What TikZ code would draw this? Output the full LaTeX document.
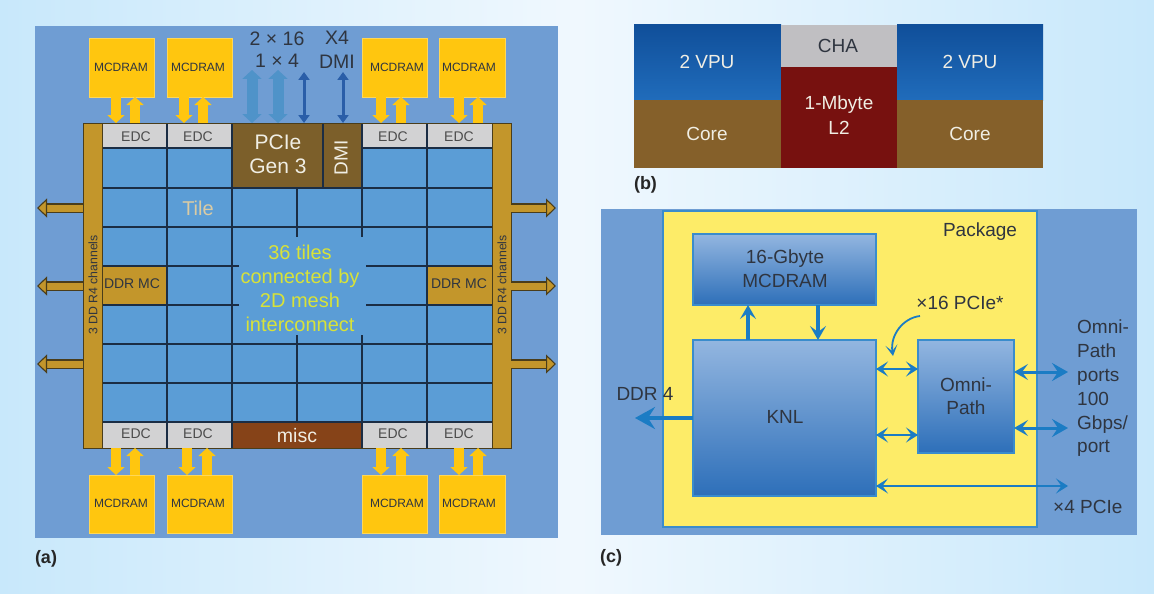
\documentclass[tikz,border=0pt]{standalone}
\usepackage{fontspec}
\setmainfont{Liberation Sans}
\usetikzlibrary{arrows.meta}
\definecolor{panelblue}{HTML}{6F9DD3}
\definecolor{tileblue}{HTML}{5B9DD6}
\definecolor{gridline}{HTML}{1B2D44}
\definecolor{goldbar}{HTML}{C3962B}
\definecolor{goldedge}{HTML}{4A3D1A}
\definecolor{pciebrown}{HTML}{7C5F2A}
\definecolor{miscbrown}{HTML}{864318}
\definecolor{edcgray}{HTML}{D2D2D3}
\definecolor{mcyellow}{HTML}{FFC60F}
\definecolor{meshtext}{HTML}{D8E238}
\definecolor{tiletext}{HTML}{DACBA4}
\definecolor{inktext}{HTML}{2F3540}
\definecolor{softwhite}{HTML}{F0EEE4}
\definecolor{arrowlight}{HTML}{4F93C9}
\definecolor{arrowdark}{HTML}{2A5EA8}
\definecolor{cblue}{HTML}{1B7CC4}
\definecolor{pkgyellow}{HTML}{FDEC68}
\definecolor{boxedge}{HTML}{3A8CCC}
\definecolor{HTop}{HTML}{93B6E0}
\definecolor{HMid}{HTML}{6F98D2}
\definecolor{HBot}{HTML}{2D6FB9}
\definecolor{bgedge}{HTML}{C8E8FB}
\definecolor{bgmid}{HTML}{F0F8FE}
\definecolor{vputop}{HTML}{104F9A}
\definecolor{vpubot}{HTML}{206CBB}
\definecolor{corebrown}{HTML}{85602A}
\definecolor{ltwored}{HTML}{77110F}
\definecolor{chagray}{HTML}{C0BFC2}
\tikzset{
  x=1pt,y=-1pt,
  sz/.style={font=\fontsize{#1}{#1}\selectfont},
  ml/.style={align=center,font=\fontsize{#1}{24}\selectfont},
  lbl/.style={inner sep=0pt,text=inktext},
  plain/.style={inner sep=0pt,outer sep=0pt},
  edcbox/.style={fill=edcgray},
  mcbox/.style={fill=mcyellow,draw=mcyellow!70!white,line width=0.8pt},
  ybarrow/.style={line width=9.5pt,mcyellow,-{Triangle[width=17pt,length=8pt]}},
  wideio/.style={line width=11pt,arrowlight,{Triangle[width=19pt,length=9pt]}-{Triangle[width=19pt,length=9pt]}},
  thinio/.style={line width=3pt,arrowdark,{Triangle[width=11pt,length=8pt]}-{Triangle[width=11pt,length=8pt]}},
  ddrout/.style={double=goldbar,draw=goldedge,line width=1.1pt,double distance=7pt,
     -{Triangle[width=19pt,length=10pt,fill=goldbar,color=goldedge,line width=1.1pt]}},
  grid/.style={gridline,line width=1.3pt},
  knlbox/.style={draw=boxedge,line width=1.5pt,top color=HTop,middle color=HMid,bottom color=HBot},
  cthin/.style={cblue,line width=2.5pt,{Stealth[length=12pt,width=15pt,inset=5.5pt]}-{Stealth[length=12pt,width=15pt,inset=5.5pt]}},
  cone/.style={cblue,line width=3.2pt,-{Stealth[length=14pt,width=16pt,inset=6pt]}},
  cport/.style={cblue,line width=3pt,{Stealth[length=14pt,width=16pt,inset=6pt]}-{Stealth[length=16pt,width=18pt,inset=6pt]}}
}
% #1 name, #2 x1, #3 y1, #4 x2, #5 y2, #6 style, #7 text
\newcommand\bx[7]{\node[plain,minimum width={(#4-#2)*1pt},minimum height={(#5-#3)*1pt},#6] (#1) at ({(#2+#4)/2},{(#3+#5)/2}) {#7};}
\begin{document}
\begin{tikzpicture}
\useasboundingbox (0,0) rectangle (1154,594);
\shade[left color=bgedge,right color=bgedge,middle color=bgmid] (0,0) rectangle (1154,594);

%%% panel a
\bx{pa}{35}{26}{558}{538}{fill=panelblue}{}
\bx{tiles}{102}{148}{492}{422}{fill=tileblue}{}
\bx{barL}{83}{123}{102}{448}{fill=goldbar}{}
\bx{barR}{492}{123}{511}{448}{fill=goldbar}{}
\bx{ddrL}{102}{266}{167}{305}{fill=goldbar}{}
\bx{ddrR}{427}{266}{492}{305}{fill=goldbar}{}
\bx{pcie}{232}{123}{323}{188}{fill=pciebrown}{}
\bx{dmi}{323}{123}{362}{188}{fill=pciebrown}{}
\bx{misc}{232}{422}{362}{448}{fill=miscbrown}{}
\bx{eA}{102}{123}{167}{148}{edcbox}{}
\bx{eB}{167}{123}{232}{148}{edcbox}{}
\bx{eC}{362}{123}{427}{148}{edcbox}{}
\bx{eD}{427}{123}{492}{148}{edcbox}{}
\bx{eE}{102}{422}{167}{448}{edcbox}{}
\bx{eF}{167}{422}{232}{448}{edcbox}{}
\bx{eG}{362}{422}{427}{448}{edcbox}{}
\bx{eH}{427}{422}{492}{448}{edcbox}{}
% mesh
\foreach \yy in {188,227,344,383,422} \draw[grid] (102,\yy) -- (492,\yy);
\foreach \yy in {266,305} {\draw[grid] (102,\yy) -- (239,\yy); \draw[grid] (366,\yy) -- (492,\yy);}
\draw[grid] (102,148) -- (232,148) (362,148) -- (492,148);
\foreach \xx in {167,427} \draw[grid] (\xx,123) -- (\xx,448);
\draw[grid] (232,123) -- (232,448);
\draw[grid] (362,123) -- (362,237) (362,335) -- (362,448);
\draw[grid] (297,188) -- (297,237) (297,335) -- (297,422);
\draw[grid] (323,123) -- (323,188);
\draw[goldedge,line width=1pt] (102,123) -- (102,448) (492,123) -- (492,448);
\draw[goldedge,line width=1pt] (83,123) rectangle (511,448);

% MCDRAM
\bx{mA}{89}{38}{154}{97}{mcbox}{}
\bx{mB}{167}{38}{232}{97}{mcbox}{}
\bx{mC}{362}{38}{427}{97}{mcbox}{}
\bx{mD}{439}{38}{505}{97}{mcbox}{}
\bx{mE}{89}{475}{154}{533}{mcbox}{}
\bx{mF}{167}{475}{232}{533}{mcbox}{}
\bx{mG}{362}{475}{427}{533}{mcbox}{}
\bx{mH}{439}{475}{505}{533}{mcbox}{}
\foreach \nm/\xx/\yy in {tA/121/67,tB/198/67,tC/397/67,tD/469/67,tE/121/503,tF/198/503,tG/397/503,tH/469/503}
  \node[lbl,sz=12] (\nm) at (\xx,\yy) {MCDRAM};
\foreach \nm/\xx/\yy in {uA/136/137,uB/198/137,uC/393/137,uD/459/137,uE/136/434,uF/198/434,uG/393/434,uH/459/434}
  \node[lbl,sz=14,text=black!70] (\nm) at (\xx,\yy) {EDC};

% yellow arrows
\draw[ybarrow] (116,0 |- mA.south) -- (116,0 |- eA.north);
\draw[ybarrow] (135,0 |- eA.north) -- (135,0 |- mA.south);
\draw[ybarrow] (184,0 |- mB.south) -- (184,0 |- eB.north);
\draw[ybarrow] (203,0 |- eB.north) -- (203,0 |- mB.south);
\draw[ybarrow] (381,0 |- mC.south) -- (381,0 |- eC.north);
\draw[ybarrow] (401,0 |- eC.north) -- (401,0 |- mC.south);
\draw[ybarrow] (459,0 |- mD.south) -- (459,0 |- eD.north);
\draw[ybarrow] (478,0 |- eD.north) -- (478,0 |- mD.south);
\draw[ybarrow] (116,0 |- eE.south) -- (116,0 |- mE.north);
\draw[ybarrow] (135,0 |- mE.north) -- (135,0 |- eE.south);
\draw[ybarrow] (187,0 |- eF.south) -- (187,0 |- mF.north);
\draw[ybarrow] (207,0 |- mF.north) -- (207,0 |- eF.south);
\draw[ybarrow] (381,0 |- eG.south) -- (381,0 |- mG.north);
\draw[ybarrow] (401,0 |- mG.north) -- (401,0 |- eG.south);
\draw[ybarrow] (459,0 |- eH.south) -- (459,0 |- mH.north);
\draw[ybarrow] (478,0 |- mH.north) -- (478,0 |- eH.south);

% pcie labels and arrows
\node[lbl,align=center,font=\fontsize{19.5}{21.5}\selectfont] (lp) at (277,49.5) {2 × 16\\1 × 4};
\node[lbl,align=center,font=\fontsize{19.5}{24}\selectfont] (lx) at (337,50) {X4\\DMI};
\coordinate (ioA) at (252,70);
\coordinate (ioB) at (278,70);
\coordinate (ioC) at (304,72);
\coordinate (ioD) at (343,72);
\draw[wideio] (ioA) -- (ioA |- pcie.north);
\draw[wideio] (ioB) -- (ioB |- pcie.north);
\draw[thinio] (ioC) -- (ioC |- pcie.north);
\draw[thinio] (ioD) -- (ioD |- dmi.north);

% chip texts
\node[plain,align=center,text=softwhite,font=\fontsize{21}{24}\selectfont] (tp) at (278,154) {PCIe\\Gen 3};
\node[plain,rotate=90,text=softwhite,sz=19] (td) at (341,158) {DMI};
\node[plain,text=softwhite,sz=19.5] (tm) at (297,436) {misc};
\node[plain,text=tiletext,sz=20] (tt) at (198,208) {Tile};
\node[plain,text=meshtext,ml=20] (tq) at (300,288) {36 tiles\\connected by\\2D mesh\\interconnect};
\node[lbl,sz=14] (dl) at (132,284) {DDR MC};
\node[lbl,sz=14] (dr) at (459,284) {DDR MC};
\node[lbl,rotate=90,sz=12.3] (cl) at (93,285) {3 DD R4 channels};
\node[lbl,rotate=90,sz=12.3] (cr) at (502,285) {3 DD R4 channels};

% DDR channel arrows
\foreach \yy/\nm in {208/a,286/b,364/c} {
  \coordinate (ol\nm) at (37,\yy);
  \coordinate (or\nm) at (556,\yy);
  \draw[ddrout] (barL.west |- ol\nm) -- (ol\nm);
  \draw[ddrout] (barR.east |- or\nm) -- (or\nm);
}

%%% panel b
\bx{vL}{634}{25}{781}{100}{top color=vputop,bottom color=vpubot}{}
\bx{vR}{897}{25}{1043}{100}{top color=vputop,bottom color=vpubot}{}
\bx{coL}{634}{100}{781}{168}{fill=corebrown}{}
\bx{coR}{897}{100}{1043}{168}{fill=corebrown}{}
\bx{cha}{781}{25}{897}{67}{fill=chagray}{}
\bx{ltwo}{781}{67}{897}{168}{fill=ltwored}{}
\node[plain,text=softwhite,sz=19] (vtA) at (707,62) {2 VPU};
\node[plain,text=softwhite,sz=19] (vtB) at (970,62) {2 VPU};
\node[plain,text=softwhite,sz=19] (ctA) at (707,134) {Core};
\node[plain,text=softwhite,sz=19] (ctB) at (970,134) {Core};
\node[lbl,sz=19] (chat) at (838,46) {CHA};
\node[plain,text=softwhite,align=center,font=\fontsize{19}{25}\selectfont] (ltwot) at (839,115.5) {1-Mbyte\\L2};

%%% panel c
\bx{pc}{601}{209}{1137}{535}{fill=panelblue}{}
\bx{pkg}{663}{211}{1037}{527}{fill=pkgyellow,draw=boxedge,line width=2pt}{}
\bx{hbm}{693}{234}{876}{305}{knlbox}{}
\bx{knl}{693}{340}{876}{496}{knlbox}{}
\bx{opa}{918}{340}{1014}{453}{knlbox}{}
\node[lbl,align=center,font=\fontsize{19}{24}\selectfont] (hbmt) at (785,269) {16-Gbyte\\MCDRAM};
\node[lbl,sz=19] (knlt) at (785,417) {KNL};
\node[lbl,align=center,font=\fontsize{19}{23}\selectfont] (opat) at (966,396.5) {Omni-\\Path};
\node[lbl,sz=19] (pkgt) at (980,232) {Package};
\node[lbl,sz=19] (pxs) at (960,303) {×16 PCIe*};
\node[lbl,sz=19] (ddrt) at (645,394) {DDR 4};
\node[lbl,align=left,anchor=north west,font=\fontsize{19}{23.8}\selectfont] (port) at (1077,320) {Omni-\\Path\\ports\\100\\Gbps/\\port};
\node[lbl,sz=19,anchor=west] (pxf) at (1053,507) {×4 PCIe};

\coordinate (ddrend) at (635,418);
\coordinate (pA) at (1068,372);
\coordinate (pB) at (1068,428);
\coordinate (pC) at (1068,486);
\coordinate (bendA) at (920,316);
\coordinate (bendB) at (893,356);
\draw[cone] (748,0 |- knl.north) -- (748,0 |- hbm.south);
\draw[cone] (818,0 |- hbm.south) -- (818,0 |- knl.north);
\draw[cblue,line width=4.5pt,-{Stealth[length=20pt,width=22pt,inset=7pt]}] (knl.west |- ddrend) -- (ddrend);
\draw[cthin] (knl.east |- 0,369) -- (opa.west |- 0,369);
\draw[cthin] (knl.east |- 0,435) -- (opa.west |- 0,435);
\draw[cport] (opa.east |- pA) -- (pA);
\draw[cport] (opa.east |- pB) -- (pB);
\draw[cthin] (knl.east |- pC) -- (pC);
\draw[cblue,line width=1.8pt,-{Stealth[length=11pt,width=12pt,inset=6pt]}] (bendA) .. controls (903,318) and (890,335) .. (bendB);

%%% captions
\node[plain,anchor=west,text=black!85,font=\bfseries\fontsize{18}{18}\selectfont] (capa) at (35,559) {(a)};
\node[plain,anchor=west,text=black!85,font=\bfseries\fontsize{18}{18}\selectfont] (capb) at (634,185) {(b)};
\node[plain,anchor=west,text=black!85,font=\bfseries\fontsize{18}{18}\selectfont] (capc) at (600,558) {(c)};
\end{tikzpicture}
\end{document}
